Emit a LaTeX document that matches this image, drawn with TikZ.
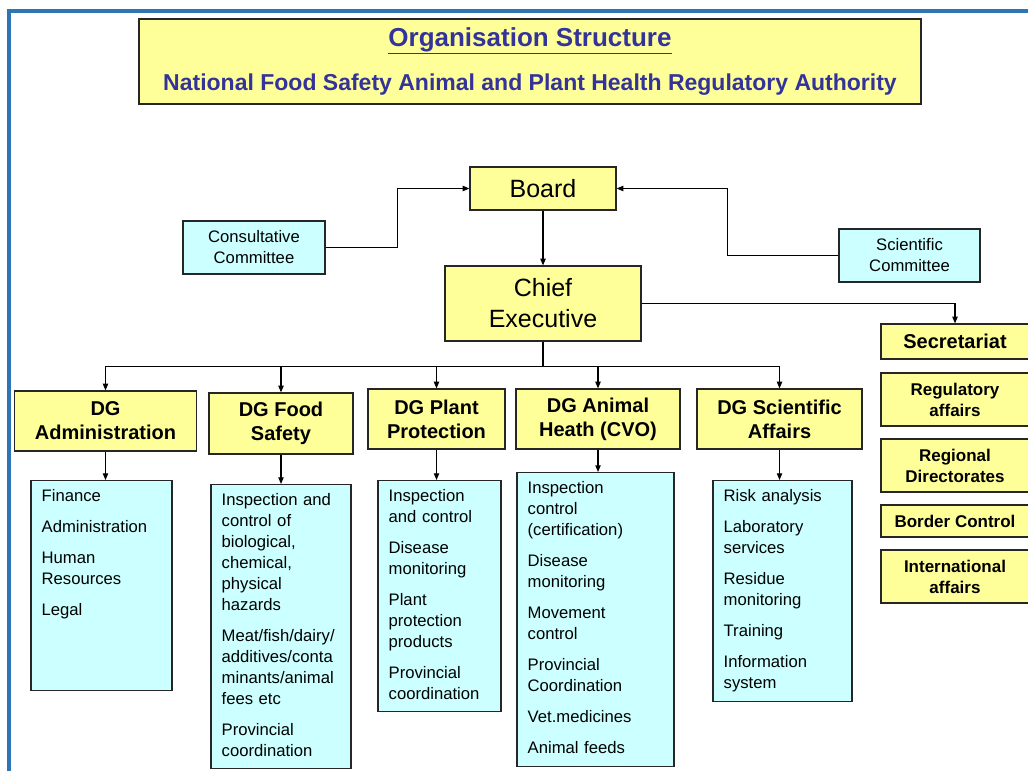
\documentclass[tikz,border=0pt]{standalone}
\usepackage{fontspec}
\setmainfont{Liberation Sans}
\usepackage{tikz}
\usetikzlibrary{arrows.meta}

\definecolor{boxyellow}{HTML}{FFFF99}
\definecolor{boxcyan}{HTML}{CCFFFF}
\definecolor{titleblue}{HTML}{333399}
\definecolor{frameblue}{HTML}{2E75B6}
\definecolor{edge}{HTML}{262626}

\begin{document}
\begin{tikzpicture}[x=0.75pt, y=-0.75pt,
    box/.style={draw=edge, line width=0.9pt, inner sep=0pt, align=center},
    yellowbox/.style={box, fill=boxyellow},
    cyanbox/.style={box, fill=boxcyan, font=\fontsize{12.5}{15.75}\selectfont},
    dg/.style={yellowbox, minimum height=45pt, font=\bfseries\fontsize{15}{18}\selectfont},
    secbox/.style={yellowbox, minimum width=111pt, font=\bfseries\fontsize{12.75}{15.75}\selectfont},
    listbox/.style={cyanbox, anchor=north, align=left, inner xsep=8pt, text height=15.5pt},
    link/.style={line width=0.8pt, -{Triangle[length=5pt, width=4pt]}}]
  \useasboundingbox (0,0) rectangle (1028,771);
  \draw[frameblue, line width=2.8pt] (9,771) -- (9,11) -- (1028,11);

  % heading
  \node[yellowbox, line width=1.2pt, minimum width=586.5pt, minimum height=63.75pt,
        text=titleblue, font=\bfseries\fontsize{17.25}{21}\selectfont] (title) at (530,61.5)
    {{\fontsize{19.5}{21}\selectfont\underline{Organisation Structure}}\\[12.5pt]
     National Food Safety Animal and Plant Health Regulatory Authority};

  % top of the structure
  \node[yellowbox, minimum width=109.5pt, minimum height=32.25pt, font=\fontsize{18.75}{22}\selectfont] (board) at (543,188.5) {Board};
  \node[yellowbox, minimum width=147pt, minimum height=56.25pt, font=\fontsize{18.75}{23.25}\selectfont] (ce) at (543,303.5) {Chief\\Executive};
  \node[cyanbox, minimum width=106.5pt, minimum height=39.75pt] (consult) at (254,247.5) {Consultative\\Committee};
  \node[cyanbox, minimum width=105.75pt, minimum height=39.75pt] (scicom) at (909.5,255.5) {Scientific\\Committee};

  % secretariat column
  \node[secbox, minimum height=26.25pt, font=\bfseries\fontsize{15}{18}\selectfont] (secr) at (955,341.5) {Secretariat};
  \node[secbox, minimum height=39.75pt] (regaff) at (955,399.5) {Regulatory\\affairs};
  \node[secbox, minimum height=39.75pt] (regdir) at (955,465.5) {Regional\\Directorates};
  \node[secbox, minimum height=24pt] (border) at (955,521) {Border Control};
  \node[secbox, minimum height=39.75pt] (intaff) at (955,576.5) {International\\affairs};

  % directorates general
  \node[dg, minimum width=136.5pt] (dgadmin) at (105.5,421) {DG\\Administration};
  \node[dg, minimum width=108pt, minimum height=45.75pt] (dgfood) at (281,423.5) {DG Food\\Safety};
  \node[dg, minimum width=102.75pt] (dgplant) at (436.5,419) {DG Plant\\Protection};
  \node[dg, minimum width=123pt] (dganimal) at (598,419) {DG Animal\\Heath (CVO)};
  \node[dg, minimum width=123.75pt] (dgsci) at (779.5,419) {DG Scientific\\Affairs};

  % their units
  \node[listbox, text width=89.75pt, text depth=142pt] (listadmin) at (101.5,480)
    {Finance\\[7.5pt]Administration\\[7.5pt]Human\\Resources\\[7.5pt]Legal};
  \node[listbox, text width=89pt, text depth=197.5pt] (listfood) at (281,484)
    {Inspection and\\control of\\biological,\\chemical,\\physical\\hazards\\[7.5pt]%
     Meat/fish/dairy/\\additives/conta\\minants/animal\\fees etc\\[7.5pt]Provincial\\coordination};
  \node[listbox, text width=76.25pt, text depth=157.75pt] (listplant) at (439.5,480)
    {Inspection\\and control\\[7.5pt]Disease\\monitoring\\[7.5pt]Plant\\protection\\products\\[7.5pt]%
     Provincial\\coordination};
  \node[listbox, text width=101.75pt, text depth=205pt] (listanimal) at (595.5,472)
    {Inspection\\control\\(certification)\\[7.5pt]Disease\\monitoring\\[7.5pt]Movement\\control\\[7.5pt]%
     Provincial\\Coordination\\[7.5pt]Vet.medicines\\[7.5pt]Animal feeds};
  \node[listbox, text width=88.25pt, text depth=150.25pt] (listsci) at (782.5,480)
    {Risk analysis\\[7.5pt]Laboratory\\services\\[7.5pt]Residue\\monitoring\\[7.5pt]Training\\[7.5pt]%
     Information\\system};

  % connectors
  \draw[link] (consult.east) -- ++(72,0) |- (board.west);
  \draw[link] (scicom.west) -- ++(-111,0) |- (board.east);
  \draw[link] (board) -- (ce);
  \draw[link] (ce.east) -| (secr.north);
  \foreach \d in {dgadmin, dgfood, dgplant, dganimal, dgsci}
    \draw[link] (ce.south) -- ++(0,24.5) -| (\d.north);
  \foreach \d/\l in {dgadmin/listadmin, dgfood/listfood, dgplant/listplant, dganimal/listanimal, dgsci/listsci}
    \draw[link] (\d.south) -- (\d.south |- \l.north);
\end{tikzpicture}
\end{document}
